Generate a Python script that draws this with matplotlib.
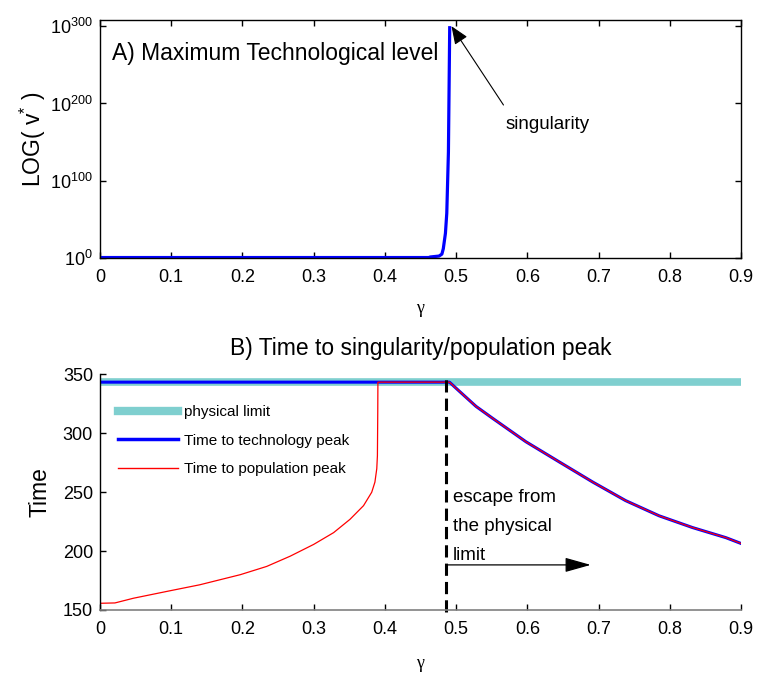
import matplotlib
matplotlib.use("Agg")
import matplotlib.pyplot as plt
import numpy as np
from matplotlib.lines import Line2D

plt.rcParams['font.family'] = ['Liberation Sans', 'DejaVu Sans']
plt.rcParams['mathtext.fontset'] = 'custom'
plt.rcParams['mathtext.rm'] = 'Liberation Sans'
plt.rcParams['mathtext.it'] = 'Liberation Sans:italic'

# ---- Data ----
# Panel A: maximum technological level (log10 of v*)
gamma_a = [0.0, 0.462, 0.4635, 0.476, 0.480, 0.482, 0.4850, 0.4869, 0.4892, 0.4910]
log10_v = [0.6, 0.6, 1.3, 2.5, 5.0, 12.0, 32.0, 58.0, 137.0, 298.0]

# Panel B: time to technology peak / population peak
phys_limit = 343.5
gamma_tech = [0.0, 0.4907, 0.5047, 0.528, 0.551, 0.598, 0.645, 0.692, 0.738,
              0.785, 0.832, 0.879, 0.9]
t_tech = [343.5, 343.5, 335.7, 322.9, 312.9, 292.9, 275.7, 258.6, 242.9,
          230.0, 220.0, 211.4, 206.5]
gamma_pop_low = [0.0, 0.021, 0.047, 0.098, 0.14, 0.197, 0.234, 0.267, 0.30,
                 0.328, 0.351, 0.37, 0.3815, 0.386, 0.3886, 0.3895, 0.39, 0.3902]
t_pop_low = [155.7, 156.0, 160.0, 166.3, 171.4, 180.0, 187.0, 195.7, 205.7,
             215.7, 227.0, 238.6, 250.0, 258.6, 270.0, 281.0, 318.6, 343.5]
gamma_crit = 0.486

gamma_pop = gamma_pop_low + gamma_tech[1:]
t_pop = t_pop_low + t_tech[1:]

xticks = [0, 0.1, 0.2, 0.3, 0.4, 0.5, 0.6, 0.7, 0.8, 0.9]
xticklabels = ['0', '0.1', '0.2', '0.3', '0.4', '0.5', '0.6', '0.7', '0.8', '0.9']

W, H = 757, 675
fig = plt.figure(figsize=(W / 100, H / 100), dpi=100)

def frac(l, t, r, b):
    return [l / W, 1 - b / H, (r - l) / W, (b - t) / H]

TICK_FS = 13
BIG_FS = 16.5

# ---- Panel A ----
ax1 = fig.add_axes(frac(100, 20, 741, 258))
ax1.plot(gamma_a, 10.0 ** np.array(log10_v), color='#0000FF', lw=2.3,
         solid_joinstyle='round')
ax1.set_yscale('log')
ax1.set_xlim(0, 0.9)
ax1.set_ylim(1, 1e308)
ax1.set_yticks([1, 1e100, 1e200, 1e300])
ax1.set_yticklabels([r'$\mathregular{10^{0}}$', r'$\mathregular{10^{100}}$',
                     r'$\mathregular{10^{200}}$', r'$\mathregular{10^{300}}$'])
ax1.yaxis.set_minor_locator(matplotlib.ticker.NullLocator())
ax1.set_xticks(xticks)
ax1.set_xticklabels(xticklabels)
ax1.tick_params(direction='in', top=True, right=True, length=4, width=1,
                labelsize=TICK_FS)
ax1.tick_params(axis='x', pad=8)
ax1.tick_params(axis='y', pad=5)
for s in ax1.spines.values():
    s.set_linewidth(1)
ax1.set_ylabel(r'LOG( $\mathregular{v^{*}}$ )', fontsize=BIG_FS, labelpad=2)
ax1.set_xlabel('γ', fontsize=13, family=['Liberation Serif', 'DejaVu Serif'],
               labelpad=10)
ax1.text(0.0165, 10.0 ** 265, 'A) Maximum Technological level',
         fontsize=BIG_FS, va='center', ha='left')
ax1.annotate('', xy=(0.4935, 10.0 ** 300), xytext=(0.5665, 10.0 ** 198),
             arrowprops=dict(arrowstyle='-|>,head_length=1.1,head_width=0.45',
                             color='black', lw=0.8, shrinkA=0, shrinkB=0))
ax1.text(0.570, 10.0 ** 173, 'singularity', fontsize=13.5, va='center',
         ha='left')

# ---- Panel B ----
ax2 = fig.add_axes(frac(100, 374.5, 741, 610))
ax2.plot([0, 0.9], [phys_limit, phys_limit], color='#7FCFCF', lw=5.5,
         solid_capstyle='butt', label='physical limit')
ax2.plot(gamma_tech, t_tech, color='#0000FF', lw=2.2,
         label='Time to technology peak')
ax2.plot(gamma_pop, t_pop, color='#FF0000', lw=0.9,
         label='Time to population peak')
ax2.plot([gamma_crit, gamma_crit], [148.5, 350.5], color='black', lw=2.2,
         ls=(0, (4, 2)), clip_on=False)
ax2.set_xlim(0, 0.9)
ax2.set_ylim(150, 350)
ax2.set_xticks(xticks)
ax2.set_xticklabels(xticklabels)
ax2.set_yticks([150, 200, 250, 300, 350])
ax2.tick_params(direction='in', length=4, width=1, labelsize=TICK_FS)
ax2.tick_params(axis='x', pad=8)
ax2.tick_params(axis='y', pad=5)
ax2.spines['top'].set_visible(False)
ax2.spines['right'].set_visible(False)
ax2.spines['bottom'].set_color('#808080')
ax2.spines['bottom'].set_linewidth(1.2)
ax2.spines['left'].set_linewidth(1)
ax2.set_ylabel('Time', fontsize=BIG_FS, labelpad=8)
ax2.set_xlabel('γ', fontsize=13, family=['Liberation Serif', 'DejaVu Serif'],
               labelpad=12)
ax2.set_title('B) Time to singularity/population peak', fontsize=BIG_FS,
              pad=14)

handles = [Line2D([], [], color='#7FCFCF', lw=6),
           Line2D([], [], color='#0000FF', lw=2.5),
           Line2D([], [], color='#FF0000', lw=1)]
labels = ['physical limit', 'Time to technology peak', 'Time to population peak']
ax2.legend(handles, labels, loc='upper left', bbox_to_anchor=(0.028, 0.87),
           frameon=False, fontsize=11, handlelength=3.9, handletextpad=0.4,
           labelspacing=0.95, borderpad=0, borderaxespad=0)

ax2.text(0.4953, 245.7, 'escape from', fontsize=13.5, va='center', ha='left')
ax2.text(0.4953, 221.0, 'the physical', fontsize=13.5, va='center', ha='left')
ax2.text(0.4953, 196.0, 'limit', fontsize=13.5, va='center', ha='left')
ax2.annotate('', xy=(0.689, 188.3), xytext=(0.4868, 188.3),
             arrowprops=dict(arrowstyle='-|>,head_length=1.6,head_width=0.45',
                             color='black', lw=0.9, shrinkA=0, shrinkB=0))

fig.savefig('out.png', dpi=100)
